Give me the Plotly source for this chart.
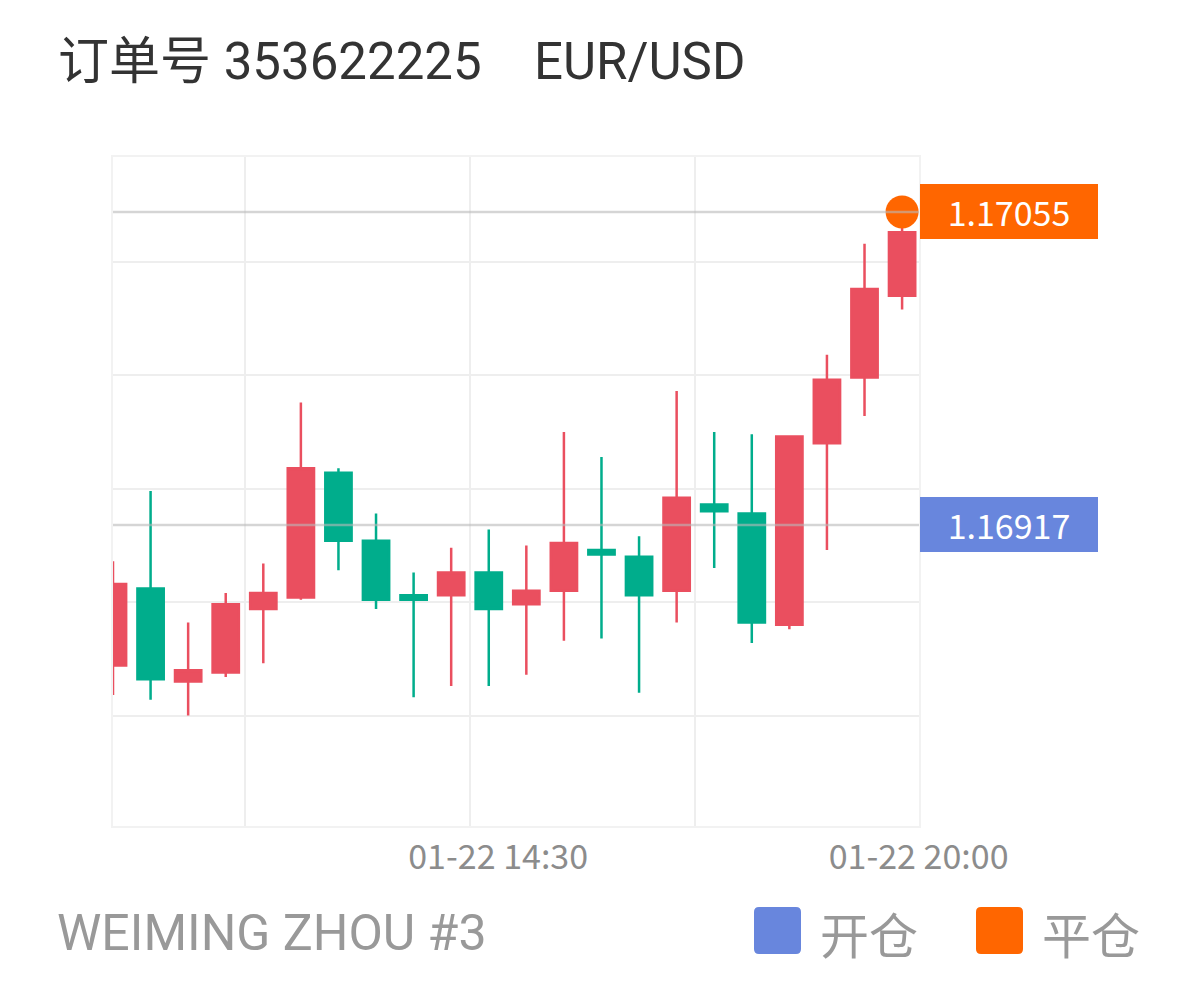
import plotly.graph_objects as go

# ---------------- data ----------------
idx = list(range(22))
opens  = [1.16855, 1.16889, 1.16848, 1.16852, 1.16880, 1.16885, 1.16940, 1.16910, 1.16886, 1.16886, 1.16896,
          1.16882, 1.16888, 1.16906, 1.16903, 1.16888, 1.16926, 1.16922, 1.16873, 1.16953, 1.16982, 1.17018]
highs  = [1.16901, 1.16932, 1.16874, 1.16887, 1.16900, 1.16971, 1.16942, 1.16922, 1.16896, 1.16907, 1.16915,
          1.16908, 1.16958, 1.16947, 1.16912, 1.16976, 1.16958, 1.16957, 1.16956, 1.16992, 1.17041, 1.17048]
lows   = [1.16842, 1.16840, 1.16833, 1.16850, 1.16856, 1.16884, 1.16897, 1.16880, 1.16841, 1.16846, 1.16846,
          1.16851, 1.16866, 1.16867, 1.16843, 1.16874, 1.16898, 1.16865, 1.16871, 1.16906, 1.16965, 1.17012]
closes = [1.16891, 1.16849, 1.16853, 1.16882, 1.16887, 1.16942, 1.16910, 1.16884, 1.16884, 1.16896, 1.16880,
          1.16888, 1.16909, 1.16904, 1.16886, 1.16929, 1.16923, 1.16874, 1.16956, 1.16981, 1.17021, 1.17046]

open_price = 1.16917
close_price = 1.17055
close_idx = 21

tick_pos = [10.25, 21.44]
tick_text = ["01-22 14:30", "01-22 20:00"]

title_left = "订单号 353622225"
title_right = "EUR/USD"
footer = "WEIMING ZHOU #3"
legend_labels = ["开仓", "平仓"]

RED = "#EA4F5F"
GREEN = "#00AD8C"
ORANGE = "#FF6600"
BLUE = "#6886DD"
GRID = "#EEEEEE"

OFF = 8  # page body margin
W, H = 1182, 974
# plot area in page pixels
L, R, T, B = 113, 919, 157, 826


def px_x(px):
    return (px - L) / (R - L)


def px_y(py):
    return (B - py) / (B - T)


def rrect(x0, y0, x1, y1, r=5):
    def P(x, y):
        return f"{px_x(x):.5f},{px_y(y):.5f}"
    return (f"M {P(x0 + r, y0)} L {P(x1 - r, y0)} Q {P(x1, y0)} {P(x1, y0 + r)} "
            f"L {P(x1, y1 - r)} Q {P(x1, y1)} {P(x1 - r, y1)} L {P(x0 + r, y1)} "
            f"Q {P(x0, y1)} {P(x0, y1 - r)} L {P(x0, y0 + r)} Q {P(x0, y0)} {P(x0 + r, y0)} Z")


fig = go.Figure()
fig.add_trace(go.Candlestick(
    x=idx, open=opens, high=highs, low=lows, close=closes,
    increasing=dict(line=dict(color=RED, width=2.5), fillcolor=RED),
    decreasing=dict(line=dict(color=GREEN, width=2.5), fillcolor=GREEN),
    whiskerwidth=0, showlegend=False, hoverinfo="skip",
))
fig.add_trace(go.Scatter(
    x=[close_idx], y=[close_price], mode="markers",
    marker=dict(color=ORANGE, size=33, line=dict(width=0)),
    showlegend=False, hoverinfo="skip", cliponaxis=False,
))

# price lines
for p in (open_price, close_price):
    fig.add_shape(type="line", xref="paper", x0=0, x1=1, yref="y", y0=p, y1=p,
                  line=dict(color="rgba(185,185,185,0.6)", width=2.5), layer="above")

# price tags
for p, c in ((close_price, ORANGE), (open_price, BLUE)):
    fig.add_annotation(xref="paper", x=1, xanchor="left", xshift=1, yref="y", y=p, yanchor="middle",
                       text=f"{p:.5f}", showarrow=False, bgcolor=c, width=178, height=55,
                       borderpad=0, borderwidth=0, align="center",
                       font=dict(family="Noto Sans CJK SC", size=34, color="white"))

# titles
fig.add_annotation(xref="paper", x=px_x(56), xanchor="left", yref="paper", y=px_y(61), yanchor="middle",
                   text=title_left, showarrow=False,
                   font=dict(family="Roboto, Noto Sans CJK SC", size=51, color="#333333"))
fig.add_annotation(xref="paper", x=px_x(532), xanchor="left", yref="paper", y=px_y(61), yanchor="middle",
                   text=title_right, showarrow=False,
                   font=dict(family="Roboto, Noto Sans CJK SC", size=51, color="#333333"))
fig.add_annotation(xref="paper", x=px_x(55), xanchor="left", yref="paper", y=px_y(933), yanchor="middle",
                   text=footer, showarrow=False,
                   font=dict(family="Roboto", size=50, color="#999999"))

# legend
for (x0, lab, c) in ((754, legend_labels[0], BLUE), (976, legend_labels[1], ORANGE)):
    fig.add_shape(type="path", xref="paper", yref="paper", path=rrect(x0, 907, x0 + 47, 954),
                  fillcolor=c, line=dict(width=0))
    fig.add_annotation(xref="paper", x=px_x(x0 + 64), xanchor="left", yref="paper", y=px_y(932),
                       yanchor="middle", text=lab, showarrow=False,
                       font=dict(family="Noto Sans CJK SC", size=49, color="#999999"))

fig.update_layout(
    width=W, height=H,
    margin=dict(l=L - OFF, r=W - (R - OFF), t=T - OFF, b=H - (B - OFF), pad=0),
    paper_bgcolor="white", plot_bgcolor="white",
    boxgap=0.3, boxgroupgap=0,
    xaxis=dict(range=[0, 21.45], rangeslider=dict(visible=False), showgrid=False, zeroline=False,
               tickmode="array", tickvals=tick_pos, ticktext=tick_text, ticks="",
               tickfont=dict(family="Noto Sans CJK SC", size=34, color="#8C8C8C"),
               showline=True, mirror=True, linecolor="#F2F2F2", linewidth=1.5,
               minor=dict(tickmode="linear", tick0=3.5, dtick=6, showgrid=True,
                          gridcolor=GRID, gridwidth=1.5, ticks="")),
    yaxis=dict(range=[1.167843, 1.170792], showgrid=True, gridcolor=GRID, gridwidth=1.5,
               tick0=1.16933, dtick=0.0005, showticklabels=False, ticks="", zeroline=False,
               showline=True, mirror=True, linecolor="#F2F2F2", linewidth=1.5),
)

fig.write_html("out.html")
